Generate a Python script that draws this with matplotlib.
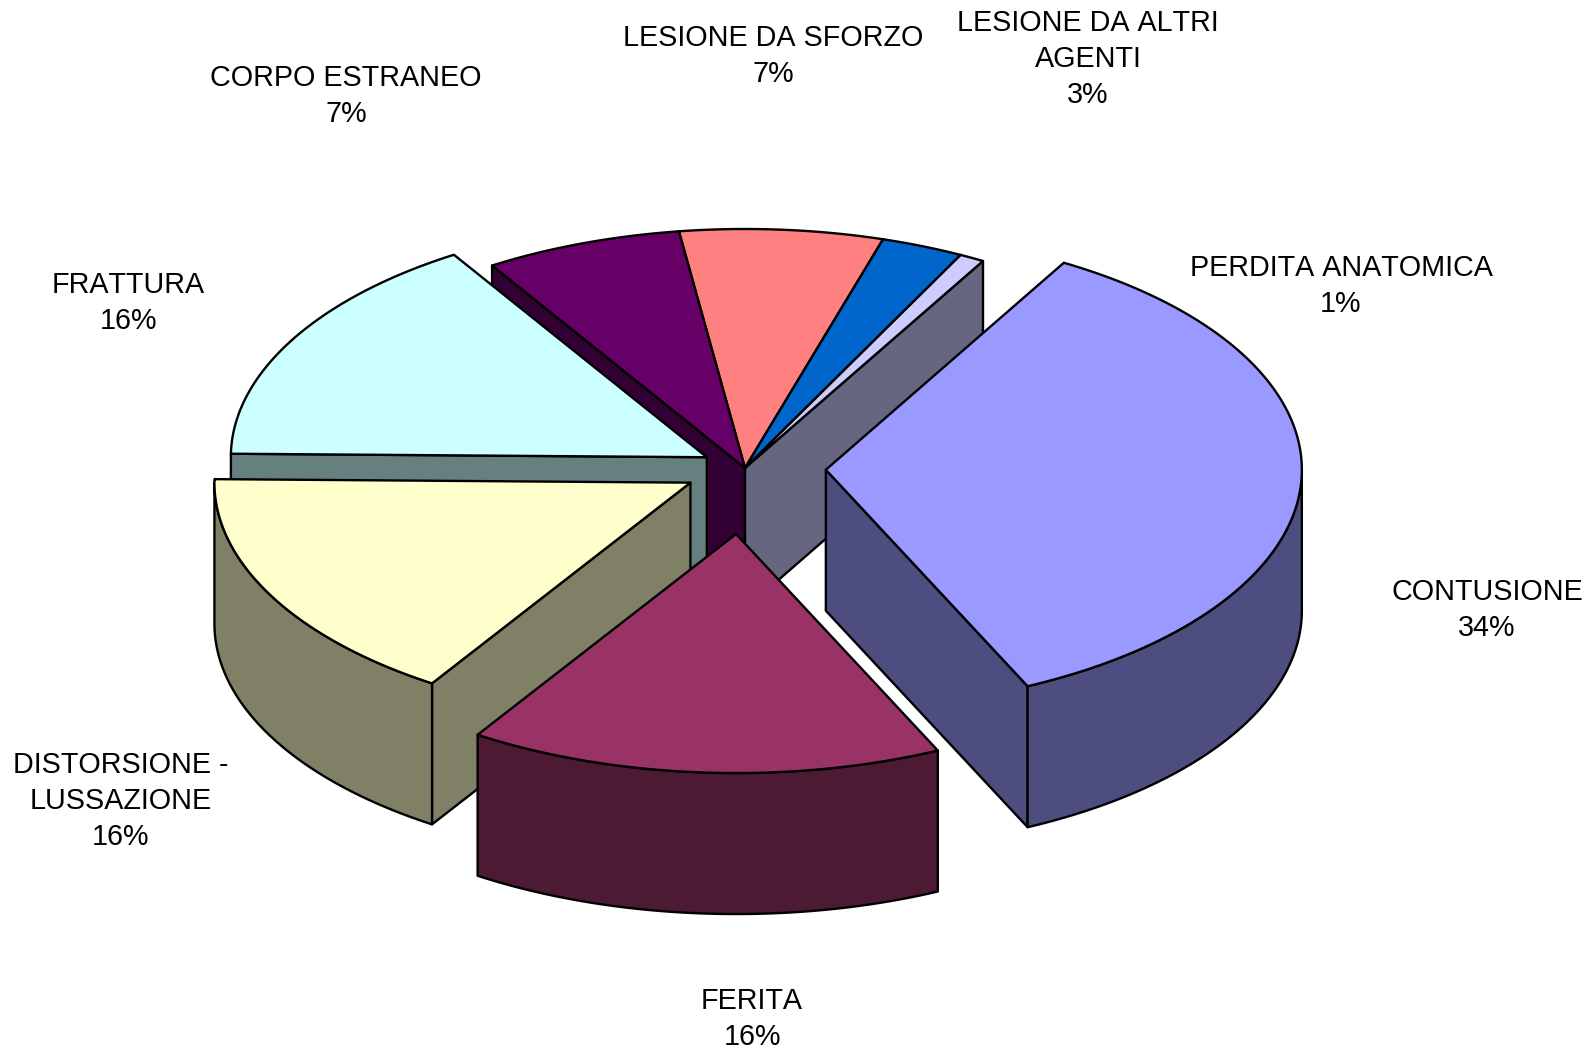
#description: exploded 3D style pie of injury types, drawn with plain polygons
import numpy as np
import matplotlib
matplotlib.use("Agg")
import matplotlib.pyplot as plt
from matplotlib.patches import Polygon

# slices, clockwise from the start angle
categories = ["CONTUSIONE", "FERITA", "DISTORSIONE -\nLUSSAZIONE", "FRATTURA",
              "CORPO ESTRANEO", "LESIONE DA SFORZO", "LESIONE DA ALTRI\nAGENTI",
              "PERDITA ANATOMICA"]
values = [34.7, 16.1, 16.1, 15.85, 6.7, 6.9, 2.8, 0.85]
pct_labels = ["34%", "16%", "16%", "16%", "7%", "7%", "3%", "1%"]
explode = [0.17, 0.277, 0.13, 0.092, 0, 0, 0, 0]
top_colors = ["#9999FF", "#993366", "#FFFFCC", "#CCFFFF",
              "#660066", "#FF8080", "#0066CC", "#CCCCFF"]
label_pos = [(1487, 610), (752, 1019), (121, 801), (128, 303),
             (346, 96), (773, 56), (1088, 59), (1341, 286)]
draw_order = [5, 6, 4, 7, 3, 2, 0, 1]

START = 60.0
CX, CY = 745, 468
RX, RY = 476, 239
DEPTH = 141
W, H = 1589, 1050


def rim(cx, cy, angles):
    a = np.radians(angles)
    return np.column_stack([cx + RX*np.cos(a), cy - RY*np.sin(a)])


def shade(color):
    rgb = np.array(matplotlib.colors.to_rgb(color))
    return tuple(rgb*0.5)


def face(ax, pts, color, z):
    ax.add_patch(Polygon(pts, closed=True, facecolor=color, edgecolor="black",
                         linewidth=1.7, joinstyle="round", zorder=z))


def main():
    plt.rcParams["text.kerning_factor"] = 6
    fig = plt.figure(figsize=(W/100, H/100), dpi=100)
    ax = fig.add_axes([0, 0, 1, 1])
    ax.set_xlim(0, W)
    ax.set_ylim(H, 0)
    ax.axis("off")

    spans = np.array(values)/sum(values)*360
    ends = START - np.cumsum(spans)
    starts = ends + spans

    for rank, i in enumerate(draw_order):
        hi, lo = starts[i], ends[i]
        mid = np.radians((hi+lo)/2)
        cx = CX + explode[i]*RX*np.cos(mid)
        cy = CY - explode[i]*RY*np.sin(mid)
        dark = shade(top_colors[i])
        # unexploded back slices: all side faces go under all their tops
        z = 10 + rank*3 if explode[i] > 0 else 2 + rank*0.01
        down = np.array([0, DEPTH])
        apex = np.array([[cx, cy]])

        # radial faces that look at the viewer
        if np.cos(np.radians(hi)) < 0:
            p = rim(cx, cy, [hi])
            face(ax, np.vstack([apex, p, p+down, apex+down]), dark, z)
        if np.cos(np.radians(lo)) > 0:
            p = rim(cx, cy, [lo])
            face(ax, np.vstack([apex, p, p+down, apex+down]), dark, z)

        # outer wall, only the part on the front half
        w_angles = np.linspace(hi, lo, 200)
        w_angles = w_angles[np.sin(np.radians(w_angles)) <= 0]
        if len(w_angles) > 1:
            arc = rim(cx, cy, w_angles)
            face(ax, np.vstack([arc, (arc+down)[::-1]]), dark, z+1)

        # top
        arc = rim(cx, cy, np.linspace(hi, lo, 200))
        face(ax, np.vstack([apex, arc]), top_colors[i], z+2 if explode[i] > 0 else 5)

        ax.text(label_pos[i][0], label_pos[i][1], categories[i] + "\n" + pct_labels[i],
                ha="center", va="center", family="Liberation Sans", fontsize=20.7,
                linespacing=1.35, color="black", zorder=50)

    fig.savefig("out.png", dpi=100)


if __name__ == "__main__":
    main()
